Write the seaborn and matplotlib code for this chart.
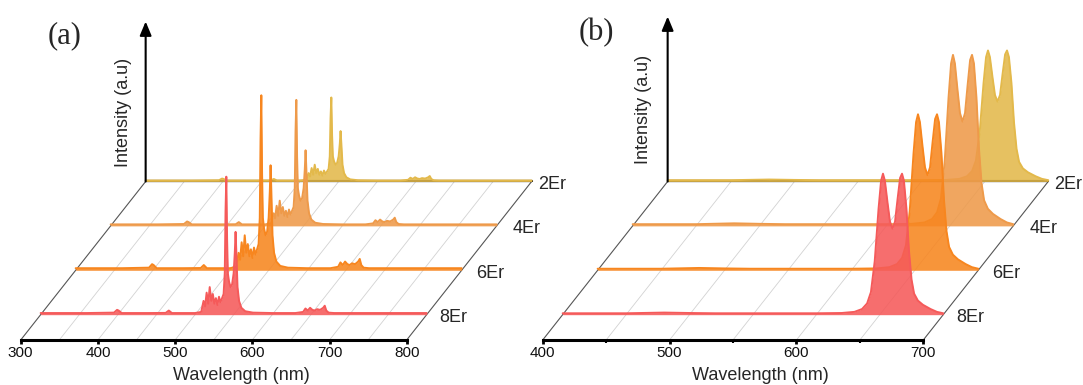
import numpy as np
import matplotlib
matplotlib.use("Agg")
import matplotlib.pyplot as plt
import seaborn as sns

# Muestras (de atras hacia delante)
samples = ["2Er", "4Er", "6Er", "8Er"]
colors = ["#E3B94B", "#EE9A4A", "#F7861F", "#F55A5A"]

# Panel (a): espectro de emision, forma comun (relativa al pico principal)
wl_a = [300, 330, 360, 395, 399, 401, 405, 440, 462, 466, 470, 500,
        508, 511, 513, 515, 517, 519, 521, 523, 525, 527, 529, 531,
        533, 535, 537, 538.5, 539.5, 540.5, 541.5, 542.5, 544, 546, 548, 550,
        551.5, 552.5, 553.5, 555, 557, 560, 565, 575, 600, 630,
        640, 643, 646, 649, 652, 655, 658, 662, 666, 668, 670, 673,
        680, 720, 760, 800]
rel_a = [0.012, 0.012, 0.012, 0.015, 0.035, 0.03, 0.012, 0.012, 0.013, 0.03, 0.012, 0.012,
         0.02, 0.10, 0.06, 0.16, 0.08, 0.20, 0.10, 0.15, 0.08, 0.12, 0.07, 0.13,
         0.09, 0.12, 0.15, 0.30, 0.75, 1.00, 0.55, 0.30, 0.24, 0.20, 0.22, 0.30,
         0.45, 0.60, 0.45, 0.20, 0.10, 0.05, 0.025, 0.015, 0.012, 0.012,
         0.02, 0.045, 0.03, 0.05, 0.035, 0.03, 0.04, 0.035, 0.05, 0.065, 0.03, 0.015,
         0.012, 0.012, 0.012, 0.012]
peak_a = [84, 126, 175, 138]

# Panel (b): banda roja, forma comun
wl_b = [400, 450, 480, 500, 520, 560, 600, 620, 630, 636, 640, 643, 646, 649,
        651, 652.5, 654, 656, 658, 660, 662, 664, 666, 667.5, 669, 671, 673,
        675, 677, 680, 684, 690, 695, 700]
rel_b = [0.01, 0.01, 0.015, 0.012, 0.01, 0.01, 0.01, 0.012, 0.02, 0.04, 0.08, 0.16, 0.38, 0.75,
         0.95, 1.00, 0.95, 0.80, 0.66, 0.61, 0.66, 0.82, 0.97, 1.00, 0.95, 0.75, 0.45,
         0.25, 0.15, 0.10, 0.07, 0.04, 0.02, 0.01]
peak_b = [131, 171, 156, 141]

sns.set_theme(style="ticks")
plt.rcParams["font.family"] = ["Liberation Sans", "DejaVu Sans"]

W, H = 1083, 385
Y0 = 340          # linea del eje frontal (px desde arriba)
DX, DY = 35.0, 44.4   # desplazamiento por fila (px)
depths = [3.57, 2.57, 1.57, 0.57]
D_BACK = 3.57
label_dx = [6, 16, 14, 13]   # separacion de la etiqueta respecto al borde (px)

fig = plt.figure(figsize=(W / 100, H / 100), dpi=100)


def panel(left, right, lo, hi, minor, wl, rel, peaks, z_top, tag, tag_xy, ylab_xy, xlab_xy):
    ax = fig.add_axes([left / W, (H - Y0) / H, (right - left) / W, Y0 / H])
    ax.set_xlim(lo, hi)
    ax.set_ylim(0, Y0)
    ppn = (right - left) / (hi - lo)
    wl = np.array(wl, dtype=float)
    rel = np.array(rel, dtype=float)

    def proj(x, d, z):
        return np.asarray(x) + d * DX / ppn, np.asarray(z) + d * DY

    # suelo: rejilla y bordes
    for g in np.arange(lo + 50, hi, 50):
        xs, ys = proj([g, g], np.array([0, D_BACK]), [0, 0])
        ax.plot(xs, ys, color="#d2d2d2", lw=0.6, clip_on=False, zorder=1)
    for g in (lo, hi):
        xs, ys = proj([g, g], np.array([0, D_BACK]), [0, 0])
        ax.plot(xs, ys, color="#555555", lw=0.8, clip_on=False, zorder=1)
    xs, ys = proj([lo, hi], D_BACK, [0, 0])
    ax.plot(xs, ys, color="black", lw=1.6, clip_on=False, zorder=2)

    # espectros
    for i, (name, c) in enumerate(zip(samples, colors)):
        d = depths[i]
        x, y0 = proj(wl, d, np.zeros_like(wl))
        y = y0 + rel * peaks[i]
        ax.fill_between(x, y0, y, color=c, alpha=0.88, lw=0, clip_on=False, zorder=3 + i)
        sns.lineplot(x=x, y=y, ax=ax, color=c, lw=1.4, estimator=None, sort=False,
                     clip_on=False, zorder=3 + i)
        lx, ly = proj(hi, d, 0)
        ax.annotate(name, xy=(lx, ly), xytext=(label_dx[i], -3), textcoords="offset pixels",
                    ha="left", va="center", fontsize=13, annotation_clip=False)

    # eje vertical con flecha
    ax.annotate("", xy=proj(lo, D_BACK, z_top), xytext=proj(lo, D_BACK, 0),
                arrowprops=dict(arrowstyle="-|>,head_length=0.6,head_width=0.25",
                                color="black", lw=1.5, mutation_scale=14,
                                shrinkA=0, shrinkB=0),
                annotation_clip=False, zorder=8)

    sns.despine(ax=ax, left=True)
    ax.spines["bottom"].set_linewidth(2.2)
    ax.spines["bottom"].set_color("black")
    ax.set_yticks([])
    ax.set_xticks(np.arange(lo, hi + 1, 100))
    if minor:
        ax.set_xticks(np.arange(lo + 50, hi, 100), minor=True)
    ax.tick_params(axis="x", which="major", direction="out", length=3, width=2,
                   color="black", labelsize=11, pad=1.5, labelcolor="#111111")
    ax.tick_params(axis="x", which="minor", direction="out", length=2, width=1.5, color="black")
    ax.set_facecolor("none")

    fig.text(tag_xy[0] / W, 1 - tag_xy[1] / H, tag, family=["Liberation Serif"],
             fontsize=22, ha="center", va="center")
    fig.text(ylab_xy[0] / W, 1 - ylab_xy[1] / H, "Intensity (a.u)", rotation=90,
             fontsize=13, ha="center", va="center")
    fig.text(xlab_xy[0] / W, 1 - xlab_xy[1] / H, "Wavelength (nm)",
             fontsize=13, ha="center", va="center")
    return ax


panel(20.7, 406.7, 300, 800, False, wl_a, rel_a, peak_a, 160,
      "(a)", (64.5, 36), (123.4, 112.6), (241.4, 375))
panel(542.7, 923.3, 400, 700, True, wl_b, rel_b, peak_b, 165,
      "(b)", (596, 33), (644, 109), (760.7, 375))

fig.savefig("out.png", dpi=100)
